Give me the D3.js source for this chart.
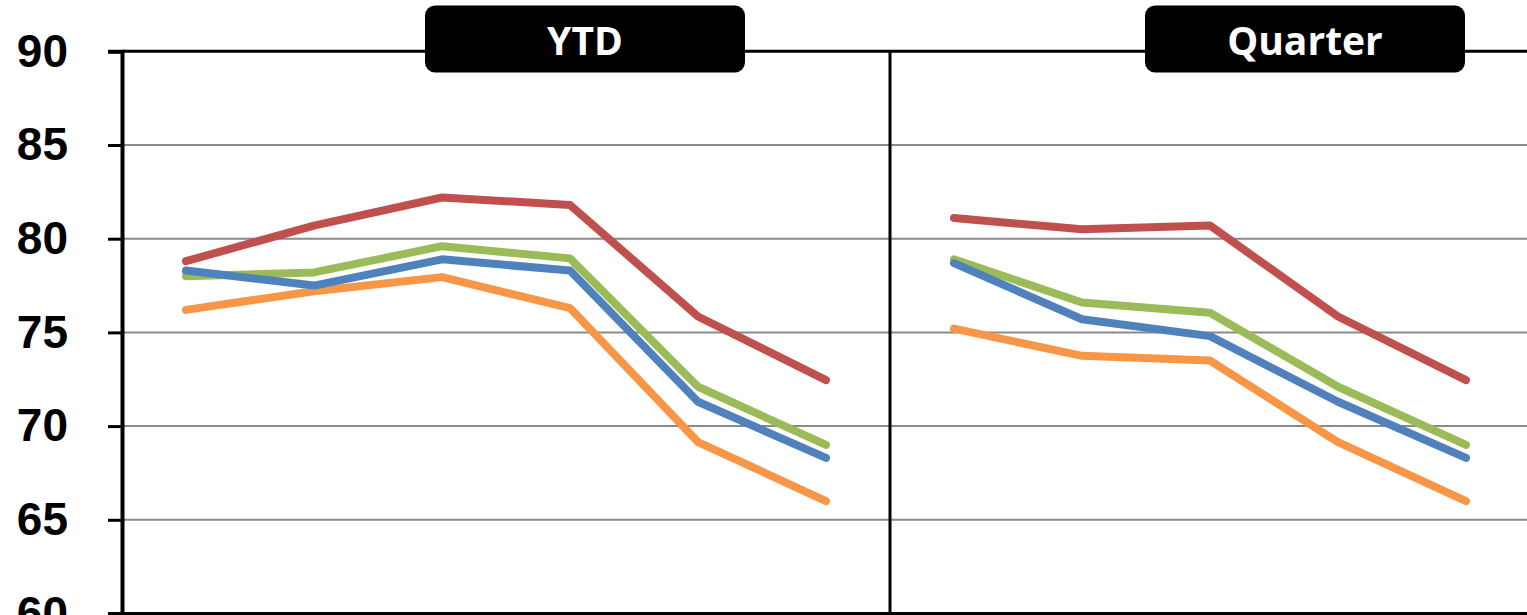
<!DOCTYPE html>
<html>
<head>
<meta charset="utf-8">
<script src="https://cdn.jsdelivr.net/npm/d3@7"></script>
<style>
  html, body { margin: 0; padding: 0; background: #fff; overflow: hidden; }
</style>
</head>
<body>
<div id="chart"></div>
<script>
const BLUE = "#4F81BD"
const RED = "#C0504D"
const GREEN = "#9BBB59"
const ORANGE = "#F79646"
const GRID_GREY = "#8a8a8a"

// categories: 6 YTD periods then 6 quarter periods (last quarter slot is cut off)
var ytdCategories = ["Y1", "Y2", "Y3", "Y4", "Y5", "Y6"];
var quarterCategories = ["Q1", "Q2", "Q3", "Q4", "Q5", "Q6"];
var yTicks = [60, 65, 70, 75, 80, 85, 90];

var ytdBlue   = [78.3, 77.5, 78.9, 78.3, 71.3, 68.3];
var ytdRed    = [78.8, 80.7, 82.2, 81.8, 75.85, 72.45];
var ytdGreen  = [78.0, 78.2, 79.6, 78.95, 72.1, 69.0];
var ytdOrange = [76.2, 77.2, 77.95, 76.3, 69.15, 66.0];

var qtrBlue   = [78.7, 75.7, 74.8, 71.3, 68.3];
var qtrRed    = [81.1, 80.5, 80.7, 75.85, 72.45];
var qtrGreen  = [78.9, 76.6, 76.05, 72.1, 69.0];
var qtrOrange = [75.2, 73.75, 73.5, 69.15, 66.0];

var panelTitles = ["YTD", "Quarter"];

var W = 1527, H = 615;
var plotLeft = 122, step = 128;

var svg = d3.select("#chart").append("svg")
  .attr("width", W)
  .attr("height", H);

var x = d3.scaleBand()
  .domain(ytdCategories.concat(quarterCategories))
  .range([plotLeft, plotLeft + step * 12]);

var y = d3.scaleLinear()
  .domain([60, 90])
  .range([613.5, 51.3]);

// gridlines
svg.append("g")
  .selectAll("line")
  .data(yTicks.filter(function(d) { return d > 60 && d < 90; }))
  .enter().append("line")
  .attr("x1", plotLeft)
  .attr("x2", W)
  .attr("y1", function(d) { return y(d); })
  .attr("y2", function(d) { return y(d); })
  .attr("stroke", GRID_GREY)
  .attr("stroke-width", 2);

// top and bottom border of plot area
svg.append("g")
  .selectAll("line")
  .data([60, 90])
  .enter().append("line")
  .attr("x1", plotLeft)
  .attr("x2", W)
  .attr("y1", function(d) { return y(d); })
  .attr("y2", function(d) { return y(d); })
  .attr("stroke", "#000")
  .attr("stroke-width", 3);

// divider between YTD and Quarter
var divX = x(quarterCategories[0]);
svg.append("line")
  .attr("x1", divX).attr("x2", divX)
  .attr("y1", y(90)).attr("y2", H)
  .attr("stroke", "#000")
  .attr("stroke-width", 3);

// y axis
var yAxis = svg.append("g")
  .attr("transform", "translate(" + plotLeft + ",0)")
  .call(d3.axisLeft(y).tickValues(yTicks).tickSize(14).tickPadding(40).tickFormat(d3.format("d")));
yAxis.select(".domain").attr("stroke", "#000").attr("stroke-width", 4);
yAxis.selectAll(".tick line").attr("stroke", "#000").attr("stroke-width", 3);
yAxis.selectAll(".tick text")
  .attr("fill", "#000")
  .style("font-family", "'Liberation Sans', Arial, sans-serif")
  .style("font-size", "46px")
  .style("font-weight", "bold");

// lines
var line = d3.line()
  .x(function(d) { return x(d[0]) + x.bandwidth() / 2; })
  .y(function(d) { return y(d[1]); });

function pairs(cats, vals) {
  return vals.map(function(v, i) { return [cats[i], v]; });
}

var seriesList = [
  [ytdGreen, qtrGreen, GREEN],
  [ytdOrange, qtrOrange, ORANGE],
  [ytdRed, qtrRed, RED],
  [ytdBlue, qtrBlue, BLUE]
];

seriesList.forEach(function(s) {
  [pairs(ytdCategories, s[0]), pairs(quarterCategories, s[1])].forEach(function(pts) {
    svg.append("path")
      .datum(pts)
      .attr("d", line)
      .attr("fill", "none")
      .attr("stroke", s[2])
      .attr("stroke-width", 8)
      .attr("stroke-linecap", "round")
      .attr("stroke-linejoin", "round");
  });
});

// panel title boxes
var titleBoxes = [
  {text: panelTitles[0], cx: 585},
  {text: panelTitles[1], cx: 1305}
];
var tb = svg.append("g").selectAll("g")
  .data(titleBoxes)
  .enter().append("g")
  .attr("transform", function(d) { return "translate(" + d.cx + ",39)"; });
tb.append("rect")
  .attr("x", -160).attr("y", -33.5)
  .attr("width", 320).attr("height", 67)
  .attr("rx", 10).attr("ry", 10)
  .attr("fill", "#000");
tb.append("text")
  .attr("text-anchor", "middle")
  .attr("y", 16)
  .attr("fill", "#fff")
  .style("font-family", "'Open Sans', sans-serif")
  .style("font-size", "39px")
  .style("font-weight", "bold")
  .text(function(d) { return d.text; });
</script>
</body>
</html>
